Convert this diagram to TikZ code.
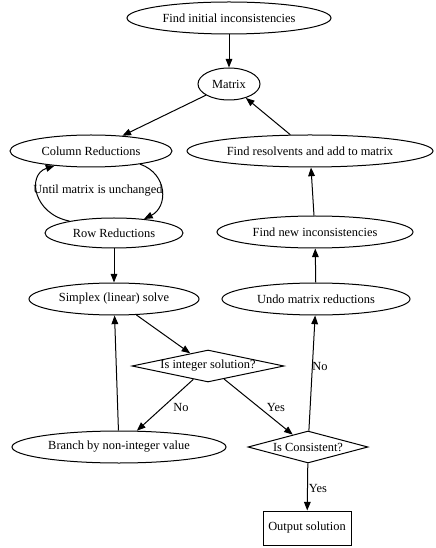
\documentclass[tikz,border=0pt]{standalone}
\usepackage{fontspec}
\setmainfont{Liberation Serif}
\usetikzlibrary{shapes.geometric,arrows.meta}
\begin{document}
\begin{tikzpicture}[x=0.75pt,y=-0.75pt,
  every node/.style={font=\fontsize{9.3}{11}\selectfont},
  ell/.style 2 args={ellipse,draw,line width=0.75pt,inner sep=0pt,minimum width=#1*1.5pt,minimum height=#2*1.5pt},
  dia/.style 2 args={diamond,draw,line width=0.75pt,inner sep=0pt,aspect=4.75,minimum width=#1*1.5pt,minimum height=#2*1.5pt},
  boxn/.style 2 args={rectangle,draw,line width=0.75pt,inner sep=0pt,minimum width=#1*1.5pt,minimum height=#2*1.5pt},
  arr/.style={line width=0.75pt,-{Triangle[length=6.5pt,width=5pt]}},
  lbl/.style={inner sep=1pt}]
\useasboundingbox (0,0) rectangle (435,548);
\node[ell={102}{16}] (init) at (229,18) {Find initial inconsistencies};
\node[ell={31}{16}] (mat) at (229,84) {Matrix};
\node[ell={81}{16}] (col) at (91,151) {Column Reductions};
\node[ell={123}{16}] (res) at (310,151) {Find resolvents and add to matrix};
\node[ell={69}{15}] (row) at (114,233) {Row Reductions};
\node[ell={98}{16}] (new) at (315,232) {Find new inconsistencies};
\node[ell={85}{16}] (sim) at (114,299) {Simplex (linear) solve};
\node[ell={94}{16}] (undo) at (316,299) {Undo matrix reductions};
\node[dia={76}{16}] (isint) at (208,366) {\makebox[0pt]{Is integer solution?}};
\node[ell={107}{16}] (br) at (119,447) {Branch by non-integer value};
\node[dia={60}{16}] (cons) at (308,447) {\makebox[0pt]{Is Consistent?}};
\node[boxn={44}{17}] (out) at (307,528) {Output solution};

\draw[arr] (init) -- (mat);
\draw[arr] (mat) -- (col);
\draw[arr] (res) -- (mat);
\draw[arr] (col.-15) .. controls +(28,10) and +(24,-12) .. (row.25);
\draw[arr] (row.165) .. controls +(-36,-7) and +(-28,9) .. (col.202);
\node[lbl] (until) at (98,191) {Until matrix is unchanged};
\draw[arr] (row) -- (sim);
\draw[arr] (sim) -- (isint);
\draw[arr] (isint) -- (br);
\node[lbl] (no1) at (181,407) {No};
\draw[arr] (isint) -- (cons);
\node[lbl] (yes1) at (276,407) {Yes};
\draw[arr] (br) -- (sim);
\draw[arr] (cons) -- (undo);
\node[lbl] (no2) at (320,366) {No};
\draw[arr] (undo) -- (new);
\draw[arr] (new) -- (res);
\draw[arr] (cons) -- (out);
\node[lbl] (yes2) at (318,488) {Yes};
\end{tikzpicture}
\end{document}
